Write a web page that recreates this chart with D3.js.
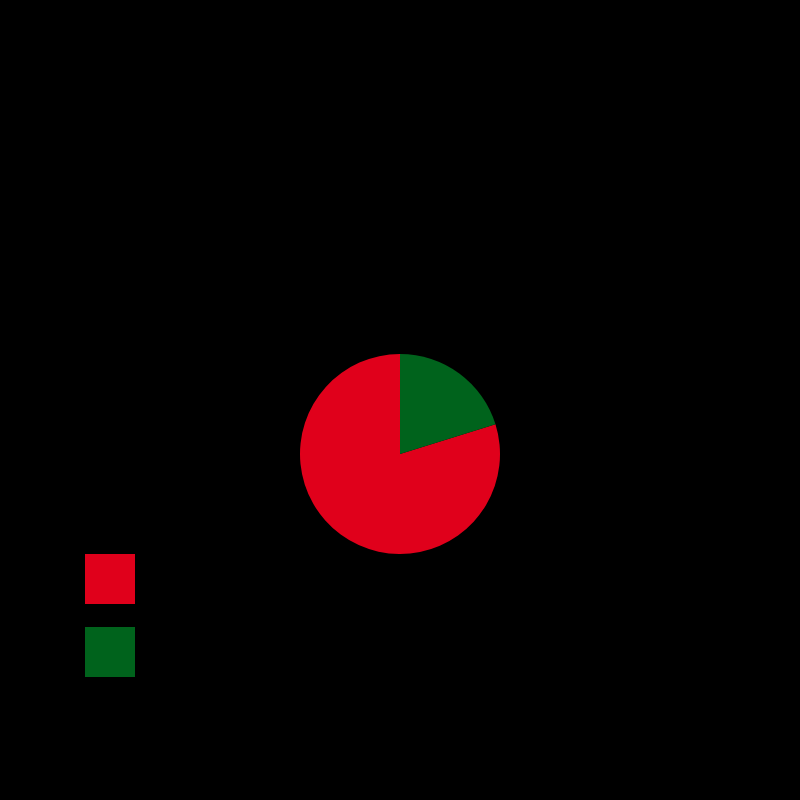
<!DOCTYPE html>
<html>
<head>
<meta charset="utf-8">
<script src="https://cdn.jsdelivr.net/npm/d3@7"></script>
<style>
html,body{margin:0;padding:0;background:#000;}
svg{display:block;}
</style>
</head>
<body>
<script>
const categories = ["Yes", "No"];
const values = [79.8, 20.2];
const colors = ["#e0001b", "#00631c"];

const W = 800, H = 800;
const svg = d3.select("body").append("svg").attr("width", W).attr("height", H);
svg.append("rect").attr("width", W).attr("height", H).attr("fill", "#000");

const data = categories.map((c, i) => ({cat: c, value: values[i]}));
const color = d3.scaleOrdinal().domain(categories).range(colors);

const pie = d3.pie().sort(null).value(d => d.value).startAngle(0).endAngle(-2 * Math.PI);
const arc = d3.arc().innerRadius(0).outerRadius(100);

const g = svg.append("g").attr("transform", "translate(400,454)");
g.selectAll("path").data(pie(data)).join("path")
  .attr("d", arc)
  .attr("fill", d => color(d.data.cat));

const legend = svg.append("g").attr("transform", "translate(85,554)");
const item = legend.selectAll("g").data(categories).join("g")
  .attr("transform", (d, i) => `translate(0,${i * 73})`);
item.append("rect").attr("width", 50).attr("height", 50).attr("fill", d => color(d));
item.append("text").attr("x", 75).attr("y", 31)
  .attr("font-family", "Arial, Liberation Sans, sans-serif")
  .attr("font-size", 18).attr("fill", "#000")
  .text(d => d);
</script>
</body>
</html>
